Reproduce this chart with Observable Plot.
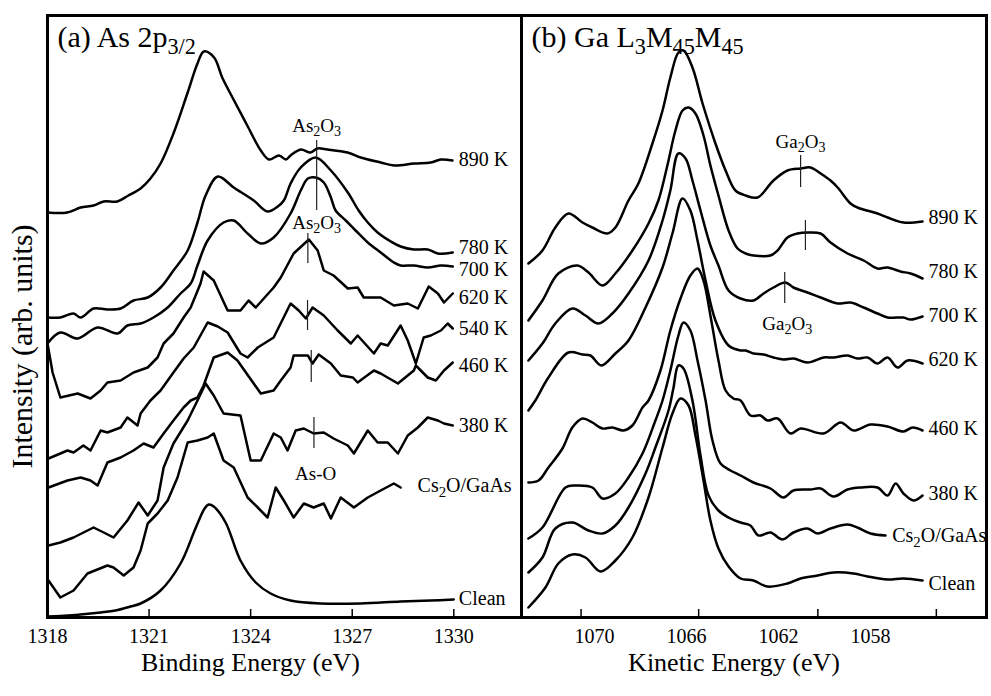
<!DOCTYPE html>
<html><head><meta charset="utf-8">
<script src="https://cdn.jsdelivr.net/npm/d3@7"></script>
<script src="https://cdn.jsdelivr.net/npm/@observablehq/plot@0.6"></script>
<style>
body{margin:0;background:#fff;}
#wrap{position:relative;width:991px;height:696px;overflow:hidden;background:#fff;}
#pa,#pb{position:absolute;top:0;}
#pa{left:0;} #pb{left:518px;}
#wrap svg, #wrap svg text{font-family:"Liberation Serif","Times New Roman",serif !important;}
</style></head><body><div id="wrap"><div id="pa"></div><div id="pb"></div></div>
<script>
// ---------- Panel (a): As 2p3/2, binding energy (eV) vs intensity (arb. units) ----------
const aSeriesNames = ["890 K","780 K","700 K","620 K","540 K","460 K","380 K","Cs_{2}O/GaAs","Clean"];
const a890 = [[1318.00,405],[1318.58,405],[1318.98,410],[1319.36,412],[1319.66,416],[1320.06,416],[1320.39,422],[1320.75,429],[1321.04,439],[1321.34,454],[1321.72,484],[1322.13,524],[1322.43,554],[1322.62,566],[1322.92,560],[1323.16,540],[1323.51,517],[1323.90,492],[1324.30,467],[1324.54,458],[1324.84,462],[1325.04,458],[1325.18,462],[1325.48,468],[1325.77,465],[1325.97,469],[1326.27,468],[1326.86,465],[1327.25,460],[1327.84,455],[1328.24,452],[1328.83,454],[1329.32,455],[1329.62,458],[1329.96,457]];
const a780 = [[1318.00,300],[1318.38,300],[1318.77,304],[1318.98,300],[1319.36,309],[1319.77,308],[1320.16,309],[1320.54,317],[1320.96,320],[1321.34,330],[1321.72,347],[1322.14,367],[1322.43,395],[1322.67,422],[1323.03,441],[1323.50,430],[1324.09,417],[1324.50,406],[1324.80,411],[1324.98,417],[1325.18,434],[1325.48,450],[1325.92,460],[1326.37,447],[1326.87,425],[1327.19,407],[1327.46,395],[1327.75,385],[1328.14,376],[1328.43,371],[1328.82,368],[1329.23,368],[1329.53,364],[1329.97,365]];
const a700 = [[1318.00,274],[1318.38,285],[1318.89,279],[1319.48,290],[1320.07,284],[1320.36,292],[1320.75,294],[1321.13,300],[1321.55,310],[1321.93,324],[1322.23,334],[1322.43,352],[1322.73,377],[1323.20,395],[1323.50,397],[1323.91,384],[1324.30,374],[1324.68,380],[1325.18,404],[1325.48,427],[1325.69,439],[1325.92,440],[1326.16,435],[1326.37,420],[1326.51,407],[1326.81,397],[1327.10,387],[1327.46,375],[1327.84,365],[1328.23,355],[1328.43,352],[1328.82,352],[1329.23,350],[1329.62,352],[1329.97,351]];
const a620 = [[1318.00,274],[1318.15,245],[1318.38,220],[1318.89,224],[1319.27,219],[1319.57,227],[1319.77,235],[1320.16,237],[1320.54,245],[1320.96,250],[1321.25,260],[1321.43,274],[1321.72,284],[1322.02,300],[1322.23,310],[1322.52,334],[1322.61,346],[1322.91,337],[1323.32,307],[1323.70,307],[1323.94,317],[1324.15,310],[1324.68,330],[1324.89,340],[1325.27,364],[1325.72,378],[1325.98,367],[1326.16,347],[1326.45,342],[1326.87,329],[1327.16,330],[1327.34,320],[1327.84,320],[1328.23,312],[1328.64,314],[1328.94,309],[1329.26,331],[1329.53,324],[1329.71,315],[1329.97,324]];
const a540 = [[1318.03,159],[1318.59,167],[1318.77,165],[1319.06,172],[1319.27,167],[1319.57,187],[1319.77,185],[1320.16,190],[1320.36,200],[1320.66,192],[1320.75,204],[1321.04,217],[1321.34,227],[1321.72,245],[1322.02,259],[1322.32,270],[1322.73,295],[1323.03,291],[1323.32,285],[1323.70,264],[1323.91,260],[1324.21,270],[1324.68,280],[1325.18,314],[1325.42,307],[1325.63,299],[1325.83,310],[1326.16,302],[1326.57,287],[1326.96,274],[1327.16,282],[1327.64,264],[1327.84,274],[1328.05,272],[1328.43,292],[1328.64,277],[1328.88,254],[1329.11,280],[1329.32,282],[1329.62,287],[1329.82,294],[1329.97,289]];
const a460 = [[1318.03,130],[1318.59,137],[1318.98,140],[1319.27,137],[1319.48,132],[1319.77,155],[1320.16,160],[1320.54,167],[1320.84,174],[1321.13,170],[1321.43,184],[1321.72,197],[1322.02,210],[1322.23,217],[1322.43,220],[1322.61,232],[1322.91,260],[1323.32,265],[1323.61,257],[1324.30,224],[1324.68,227],[1324.89,237],[1325.18,250],[1325.27,262],[1325.69,262],[1325.83,254],[1326.01,263],[1326.37,254],[1326.66,242],[1327.02,240],[1327.16,235],[1327.64,247],[1327.84,244],[1328.35,234],[1328.82,247],[1328.88,252],[1329.23,240],[1329.47,237],[1329.71,247],[1329.97,255]];
const a380 = [[1318.03,72],[1318.38,75],[1318.77,80],[1319.36,90],[1319.66,85],[1319.95,80],[1320.36,97],[1320.69,115],[1320.96,102],[1321.25,117],[1321.43,150],[1321.72,174],[1322.14,197],[1322.43,217],[1322.67,234],[1322.91,222],[1323.20,204],[1323.70,202],[1324.00,157],[1324.30,157],[1324.68,184],[1324.89,180],[1325.09,167],[1325.33,187],[1325.57,189],[1325.86,184],[1326.16,185],[1326.45,179],[1326.87,172],[1327.05,164],[1327.46,187],[1327.75,175],[1328.05,175],[1328.35,164],[1328.64,182],[1328.94,190],[1329.23,200],[1329.53,197],[1329.71,194],[1329.97,192]];
const aCs = [[1318.03,37],[1318.38,20],[1318.77,27],[1319.18,44],[1319.77,52],[1319.95,50],[1320.25,42],[1320.54,50],[1320.75,67],[1320.96,94],[1321.25,104],[1321.55,117],[1321.84,140],[1322.14,175],[1322.43,177],[1322.73,180],[1322.91,184],[1323.20,157],[1323.50,150],[1323.91,120],[1324.21,110],[1324.50,100],[1324.74,130],[1324.98,117],[1325.27,100],[1325.57,114],[1325.86,110],[1326.16,114],[1326.37,99],[1326.66,120],[1327.05,110],[1327.46,120],[1327.84,127],[1328.23,134],[1328.43,130]];
const aClean = [[1318.00,1],[1318.38,1.5],[1318.83,2.5],[1319.57,5],[1320.01,7],[1320.45,11],[1320.75,14],[1321.34,27],[1321.93,54],[1322.37,89],[1322.64,109],[1322.76,113],[1322.91,111],[1323.26,95],[1323.70,57],[1324.15,35],[1324.59,24],[1325.18,17],[1326.07,14],[1327.25,14],[1328.43,16],[1329.32,17],[1330.00,18]];
const aSmooth = ["890 K","780 K","700 K","Clean"];
const aLabelE = [1330.15,1330.15,1330.15,1330.15,1330.15,1330.15,1330.15,1328.93,1330.15];
const aLabelI = [458,370,348,320,289,252,192,132,19];
const aTickLabels = [1318,1321,1324,1327,1330];
// As2O3 / As-O reference marks: [energy, low, high]
const aMarks = [[1325.95,407,477],[1325.69,354,384],[1325.68,287,317],[1325.79,235,267],[1325.87,169,200]];
const aNotes = [[1325.95,492,"As_{2}O_{3}"],[1325.95,395,"As_{2}O_{3}"],[1325.92,144,"As-O"]];

// ---------- Panel (b): Ga L3M45M45, kinetic energy (eV) ----------
const bSeriesNames = ["890 K","780 K","700 K","620 K","460 K","380 K","Cs_{2}O/GaAs","Clean"];
const b890 = [[1072.87,354],[1072.26,367],[1071.70,390],[1071.13,404],[1070.52,395],[1070.09,390],[1069.43,384],[1069.09,390],[1068.52,417],[1068.09,434],[1067.48,474],[1067.04,507],[1066.70,540],[1066.35,565],[1066.13,567],[1065.74,550],[1065.30,514],[1064.74,474],[1064.30,447],[1063.87,427],[1063.43,422],[1062.91,420],[1062.22,437],[1061.61,447],[1061.04,449],[1060.61,450],[1060.17,444],[1059.74,437],[1059.43,430],[1058.87,414],[1058.57,410],[1057.70,404],[1057.26,400],[1056.57,395],[1055.74,396]];
const b780 = [[1072.87,297],[1072.26,317],[1071.57,344],[1070.74,352],[1070.26,345],[1069.65,332],[1069.09,344],[1068.35,367],[1067.65,394],[1067.22,417],[1066.83,452],[1066.48,487],[1066.17,507],[1065.91,510],[1065.61,504],[1065.26,482],[1064.96,452],[1064.61,422],[1064.17,387],[1063.78,369],[1063.43,364],[1063.09,362],[1062.35,362],[1062.04,367],[1061.61,380],[1061.17,384],[1060.74,385],[1060.17,384],[1059.74,375],[1059.00,364],[1058.30,357],[1057.70,349],[1057.26,350],[1056.70,346],[1056.26,344],[1055.74,339]];
const b700 = [[1072.87,257],[1072.26,274],[1071.70,294],[1070.96,309],[1070.39,302],[1069.83,294],[1069.22,304],[1068.52,324],[1067.65,357],[1067.04,397],[1066.70,427],[1066.35,464],[1066.04,459],[1065.74,437],[1065.39,407],[1064.96,372],[1064.61,352],[1064.17,327],[1063.65,319],[1063.09,317],[1062.65,324],[1062.22,330],[1061.70,335],[1061.35,330],[1060.74,325],[1060.17,320],[1059.43,314],[1058.87,315],[1058.30,310],[1057.70,304],[1057.26,300],[1056.57,300],[1056.26,298],[1055.74,301]];
const b620 = [[1072.87,207],[1072.57,217],[1072.00,240],[1071.13,265],[1070.52,263],[1070.17,262],[1069.70,252],[1069.09,264],[1068.52,277],[1067.78,310],[1067.04,350],[1066.61,384],[1066.17,419],[1065.83,407],[1065.52,377],[1065.17,337],[1064.74,297],[1064.17,272],[1063.65,267],[1063.43,267],[1063.09,264],[1062.65,263],[1062.22,260],[1061.78,258],[1061.35,259],[1060.74,255],[1060.04,260],[1059.61,260],[1059.00,262],[1058.57,259],[1058.13,260],[1057.70,254],[1057.26,260],[1056.83,250],[1056.39,257],[1055.74,254]];
const b460 = [[1072.87,135],[1072.43,137],[1072.00,150],[1071.39,169],[1070.96,190],[1070.52,199],[1070.09,195],[1069.65,189],[1069.22,190],[1068.74,187],[1068.35,192],[1067.91,210],[1067.65,217],[1067.13,247],[1066.70,287],[1066.26,319],[1065.83,342],[1065.52,349],[1065.26,337],[1064.96,302],[1064.61,257],[1064.30,227],[1063.96,219],[1063.65,217],[1063.22,202],[1062.78,202],[1062.48,197],[1062.04,199],[1061.48,184],[1061.04,189],[1060.04,184],[1059.30,195],[1058.74,187],[1058.00,193],[1057.26,191],[1056.57,186],[1056.17,190],[1055.74,187]];
const b380 = [[1072.87,79],[1072.26,90],[1071.26,130],[1070.83,132],[1070.09,130],[1069.65,119],[1069.09,124],[1068.52,140],[1067.91,164],[1067.35,197],[1067.04,217],[1066.70,247],[1066.35,282],[1066.13,295],[1065.83,287],[1065.52,257],[1065.17,217],[1064.87,177],[1064.52,154],[1064.09,147],[1063.65,142],[1063.09,135],[1062.35,129],[1061.78,120],[1061.35,127],[1060.61,128],[1060.17,129],[1059.61,121],[1059.00,128],[1058.43,130],[1057.70,130],[1057.26,122],[1056.91,134],[1056.57,124],[1056.13,117],[1055.74,122]];
const bCs = [[1072.87,45],[1072.26,60],[1071.70,89],[1070.96,95],[1070.26,87],[1069.65,84],[1069.09,92],[1068.52,110],[1067.78,144],[1067.35,170],[1066.78,207],[1066.57,229],[1066.35,252],[1066.13,249],[1065.74,217],[1065.39,162],[1065.04,122],[1064.61,107],[1064.09,99],[1063.65,95],[1063.22,92],[1062.87,82],[1062.35,85],[1061.83,78],[1061.35,85],[1060.74,89],[1060.30,84],[1059.74,89],[1059.00,93],[1058.57,90],[1058.00,84],[1057.35,82]];
const bClean = [[1072.87,10],[1072.13,30],[1071.57,54],[1070.96,63],[1070.39,60],[1069.74,46],[1069.09,57],[1068.35,80],[1067.65,120],[1067.04,170],[1066.61,204],[1066.26,219],[1065.91,212],[1065.61,182],[1065.26,137],[1064.96,97],[1064.61,69],[1064.17,51],[1063.65,39],[1063.09,37],[1062.48,31],[1061.61,34],[1061.04,39],[1060.30,42],[1059.61,45],[1058.74,44],[1058.13,41],[1057.26,38],[1056.57,39],[1055.74,37]];
const bLabelE = [1055.48,1055.48,1055.48,1055.48,1055.48,1055.48,1057.06,1055.48];
const bLabelI = [400,346,302,258,189,124,82,34];
const bTickLabels = [1070,1066,1062,1058];
const bTickMarks = [1070.58,1065.47,1060.29,1055.14];
const bMarks = [[1061.04,430,462],[1060.83,367,397],[1061.73,314,345]];
const bNotes = [[1061.04,476,"Ga_{2}O_{3}"],[1061.62,294,"Ga_{2}O_{3}"]];

const FONT = "Liberation Serif";

function rows(names, arrs){
  return arrs.flatMap((arr, k) => arr.map(([e, i]) => ({series: names[k], e, i})));
}
function labelRows(names, es, is){ return names.map((t, k) => ({t, e: es[k], i: is[k]})); }

// subscripts written as _{...}
function applySubs(svg){
  svg.querySelectorAll("text").forEach(t => {
    const s = t.textContent;
    if (!s.includes("_{")) return;
    const parts = s.split(/(_\{[^}]*\})/).filter(p => p.length);
    while (t.firstChild) t.removeChild(t.firstChild);
    let shifted = false;
    const ns = "http://www.w3.org/2000/svg";
    parts.forEach(p => {
      const sp = document.createElementNS(ns, "tspan");
      if (p.startsWith("_{")) {
        sp.textContent = p.slice(2, -1);
        sp.setAttribute("font-size", "74%");
        if (!shifted) { sp.setAttribute("dy", "0.32em"); shifted = true; }
      } else {
        sp.textContent = p;
        if (shifted) { sp.setAttribute("dy", "-0.237em"); shifted = false; }
      }
      t.appendChild(sp);
    });
  });
}

const common = {x: "e", y: "i", z: "series", stroke: "#000", strokeWidth: 2.5, strokeLinejoin: "round", strokeLinecap: "round"};

const aRows = rows(aSeriesNames, [a890, a780, a700, a620, a540, a460, a380, aCs, aClean]);
const plotA = Plot.plot({
  width: 524, height: 696,
  marginLeft: 47, marginRight: 3, marginTop: 15, marginBottom: 79,
  style: {fontFamily: FONT, background: "transparent", color: "#000"},
  x: {domain: [1318, 1332]},
  y: {domain: [0, 602], axis: null},
  marks: [
    Plot.line(aRows.filter(d => aSmooth.includes(d.series)), {...common, curve: "catmull-rom"}),
    Plot.line(aRows.filter(d => !aSmooth.includes(d.series)), {...common, curve: "linear"}),
    Plot.ruleX(aMarks, {x: d => d[0], y1: d => d[1], y2: d => d[2], stroke: "#222", strokeWidth: 1.2}),
    Plot.text(aNotes, {x: d => d[0], y: d => d[1], text: d => d[2], fontSize: 19, fill: "#000"}),
    Plot.text(labelRows(aSeriesNames, aLabelE, aLabelI), {x: "e", y: "i", text: "t", textAnchor: "start", fontSize: 20, fill: "#000"}),
    Plot.frame({stroke: "#000", strokeWidth: 3}),
    Plot.axisX({ticks: aTickLabels, tickSize: -8, tickPadding: 19, tickFormat: d => String(d), fontSize: 20, label: null, strokeWidth: 1.5}),
    Plot.text(["(a) As 2p_{3/2}"], {frameAnchor: "top-left", dx: 10, dy: 10, textAnchor: "start", lineAnchor: "top", fontSize: 30}),
    Plot.text(["Binding Energy (eV)"], {frameAnchor: "bottom", textAnchor: "middle", dx: -34, dy: 53, fontSize: 26}),
    Plot.text(["Intensity (arb. units)"], {frameAnchor: "left", textAnchor: "middle", lineAnchor: "middle", rotate: -90, dx: -25, dy: 30, fontSize: 30})
  ]
});
applySubs(plotA);
document.getElementById("pa").appendChild(plotA);

const plotB = Plot.plot({
  width: 473, height: 696,
  marginLeft: 3, marginRight: 5, marginTop: 15, marginBottom: 79,
  style: {fontFamily: FONT, background: "transparent", color: "#000"},
  x: {domain: [1052.96, 1073.17], reverse: true},
  y: {domain: [0, 602], axis: null},
  marks: [
    Plot.line(rows(bSeriesNames, [b890, b780, b700, b620, b460, b380, bCs, bClean]), {...common, curve: "catmull-rom"}),
    Plot.ruleX(bMarks, {x: d => d[0], y1: d => d[1], y2: d => d[2], stroke: "#222", strokeWidth: 1.2}),
    Plot.text(bNotes, {x: d => d[0], y: d => d[1], text: d => d[2], fontSize: 19, fill: "#000"}),
    Plot.text(labelRows(bSeriesNames, bLabelE, bLabelI), {x: "e", y: "i", text: "t", textAnchor: "start", fontSize: 20, fill: "#000"}),
    Plot.frame({stroke: "#000", strokeWidth: 3}),
    Plot.axisX({ticks: bTickMarks, tickSize: -8, tickFormat: () => "", label: null, strokeWidth: 1.5}),
    Plot.axisX({ticks: bTickLabels, tickSize: 0, tickPadding: 11, tickFormat: d => String(d), fontSize: 20, label: null}),
    Plot.text(["(b) Ga L_{3}M_{45}M_{45}"], {frameAnchor: "top-left", dx: 10, dy: 10, textAnchor: "start", lineAnchor: "top", fontSize: 30}),
    Plot.text(["Kinetic Energy (eV)"], {frameAnchor: "bottom", textAnchor: "middle", dx: -20, dy: 53, fontSize: 26})
  ]
});
applySubs(plotB);
document.getElementById("pb").appendChild(plotB);
</script></body></html>
